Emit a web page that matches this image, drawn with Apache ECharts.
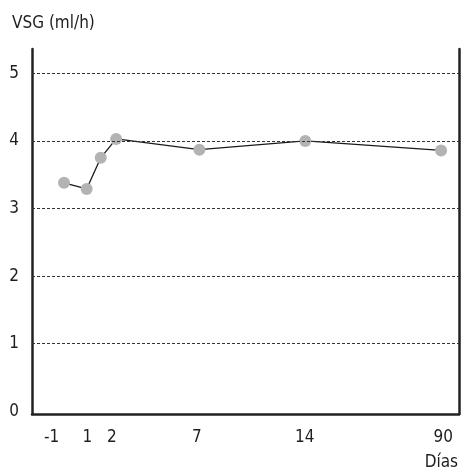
<!DOCTYPE html>
<html>
<head>
<meta charset="utf-8">
<script src="https://cdn.jsdelivr.net/npm/echarts@6/dist/echarts.min.js"></script>
<style>
html, body { margin: 0; padding: 0; background: #fff; }
#chart { width: 461px; height: 476px; }
</style>
</head>
<body>
<div id="chart"></div>
<script>
// x positions along the (non-linear) day axis, 0..100 of the plot width
var xSlot = [7.5, 12.8, 16.1, 19.7, 39.2, 64.0, 95.8];
var vsg = [3.38, 3.29, 3.75, 4.03, 3.87, 4.00, 3.86];
// tick labels and where they sit on the same axis
var dayLabels = ['-1', '1', '2', '7', '14', '90'];
var labelSlot = [4.6, 12.95, 18.7, 38.6, 63.9, 96.3];
var yTicks = [0, 1, 2, 3, 4, 5];
var gridLines = [1, 2, 3, 4, 5];

var FONT = 'DejaVu Sans Condensed';
var myChart = echarts.init(document.getElementById('chart'));

var points = xSlot.map(function (x, i) { return [x, vsg[i]]; });

var option = {
    animation: false,
    title: [
        {text: 'VSG (ml/h)', left: 12, top: 15, padding: 0,
         textStyle: {fontFamily: FONT, fontSize: 17, fontWeight: 'normal', color: '#1e1e1e'}},
        {text: 'Días', right: 3, top: 454, padding: 0,
         textStyle: {fontFamily: FONT, fontSize: 17, fontWeight: 'normal', color: '#1e1e1e'}}
    ],
    grid: {left: 32, right: 2, top: 49, bottom: 62},
    xAxis: {
        type: 'value',
        min: 0,
        max: 100,
        axisLine: {show: true, onZero: false, lineStyle: {color: '#222', width: 2.5}},
        axisTick: {show: false},
        splitLine: {show: false},
        axisLabel: {
            customValues: labelSlot,
            margin: 15,
            fontFamily: FONT,
            fontSize: 17,
            color: '#1e1e1e',
            formatter: function (v) {
                var i = labelSlot.indexOf(v);
                return i >= 0 ? dayLabels[i] : '';
            }
        }
    },
    yAxis: [
        {
            type: 'value',
            min: -0.04,
            max: 5.36,
            axisLine: {show: true, lineStyle: {color: '#222', width: 2.5}},
            axisTick: {show: false},
            splitLine: {show: false},
            axisLabel: {
                customValues: yTicks,
                margin: 13,
                fontFamily: FONT,
                fontSize: 17,
                color: '#1e1e1e'
            }
        },
        {
            type: 'value',
            position: 'right',
            min: -0.04,
            max: 5.36,
            axisLine: {show: true, lineStyle: {color: '#222', width: 2.5}},
            axisTick: {show: false},
            splitLine: {show: false},
            axisLabel: {show: false}
        }
    ],
    series: [
        {
            type: 'line',
            data: points,
            yAxisIndex: 0,
            symbol: 'circle',
            symbolSize: 12,
            itemStyle: {color: '#b2b3b5'},
            lineStyle: {color: '#1a1a1a', width: 1.3},
            markLine: {
                silent: true,
                symbol: ['none', 'none'],
                label: {show: false},
                lineStyle: {color: '#333', width: 1, type: [3, 2]},
                data: gridLines.map(function (v) { return {yAxis: v}; })
            },
            z: 3
        }
    ]
};
myChart.setOption(option);
</script>
</body>
</html>
